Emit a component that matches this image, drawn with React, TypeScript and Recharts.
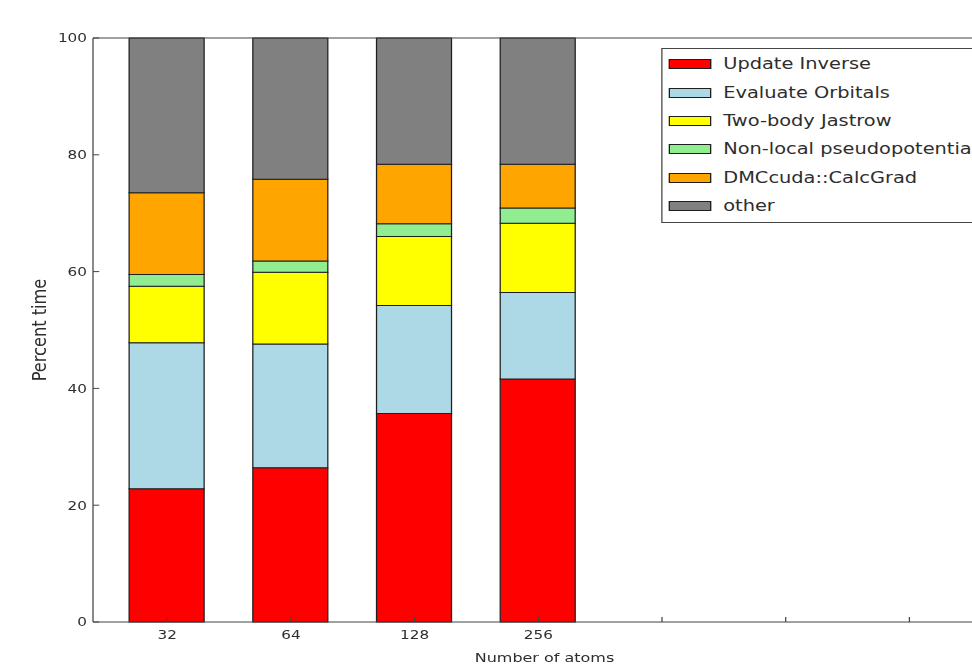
import { BarChart, Bar, XAxis, YAxis, Legend, Label } from 'recharts';

// categories on the x axis, plus three unlabeled slots the original axis keeps
const atoms = ['32', '64', '128', '256'];
const emptySlots = ['', '', ''];

// percent of time per kernel (bottom to top of each stack)
const updateInverse = [22.8, 26.4, 35.7, 41.6];
const evaluateOrbitals = [25.0, 21.2, 18.5, 14.8];
const twoBodyJastrow = [9.7, 12.3, 11.8, 11.9];
const nonLocalPP = [2.0, 1.9, 2.2, 2.6];
const calcGrad = [14.0, 14.0, 10.2, 7.5];
const other = [26.5, 24.2, 21.6, 21.6];

const yTicks = [0, 20, 40, 60, 80, 100];

const FONT = '"DejaVu Sans", sans-serif';
const TEXT = '#2e2e2e';
const EDGE = '#1e1e1e';
const SPINE = '#444';
// the source image is stretched sideways, so draw narrow and scale x
const STRETCH = 1.25;

const series = [
  { key: 'updateInverse', name: 'Update Inverse', color: '#ff0000', values: updateInverse },
  { key: 'evaluateOrbitals', name: 'Evaluate Orbitals', color: '#add8e6', values: evaluateOrbitals },
  { key: 'twoBodyJastrow', name: 'Two-body Jastrow', color: '#ffff00', values: twoBodyJastrow },
  { key: 'nonLocalPP', name: 'Non-local pseudopotential', color: '#90ee90', values: nonLocalPP },
  { key: 'calcGrad', name: 'DMCcuda::CalcGrad', color: '#ffa500', values: calcGrad },
  { key: 'other', name: 'other', color: '#808080', values: other },
];

const chartData = [...atoms, ...emptySlots].map((label, i) => {
  const row: Record<string, string | number | undefined> = { atoms: label };
  series.forEach(s => {
    row[s.key] = s.values[i];
  });
  return row;
});

const renderLegend = () => (
  <div
    style={{
      border: '1px solid #444',
      background: '#fff',
      padding: '1px 0 2px',
      width: 260,
      fontFamily: FONT,
      fontSize: 15.5,
      color: TEXT,
    }}
  >
    {series.map(s => (
      <div key={s.key} style={{ display: 'flex', alignItems: 'center', height: 28.4 }}>
        <span
          style={{
            width: 33.6,
            height: 10,
            background: s.color,
            border: `1px solid ${EDGE}`,
            boxSizing: 'border-box',
            marginLeft: 5.6,
            marginRight: 9.6,
            flex: 'none',
          }}
        />
        <span style={{ whiteSpace: 'nowrap' }}>{s.name}</span>
      </div>
    ))}
  </div>
);

export default function App() {
  const tickStyle = { fill: TEXT, fontSize: 12.2, fontFamily: FONT };
  return (
    <div
      style={{
        position: 'fixed',
        left: 0,
        top: 0,
        width: 972,
        height: 664,
        overflow: 'hidden',
        background: '#fff',
      }}
    >
      <div style={{ transform: `scale(${STRETCH}, 1)`, transformOrigin: '0 0', width: 810, height: 680 }}>
        <BarChart
          width={810}
          height={680}
          data={chartData}
          barSize={60}
          margin={{ top: 37, right: 13.2, bottom: 0, left: 0 }}
        >
          <XAxis
            dataKey="atoms"
            height={58}
            interval={0}
            padding={{ left: 9.9, right: 19.8 }}
            tickSize={-5}
            tickMargin={13.5}
            tick={tickStyle}
            axisLine={{ stroke: SPINE }}
            tickLine={{ stroke: SPINE }}
          >
            <Label
              value="Number of atoms"
              position="insideBottom"
              offset={18}
              style={{ fill: TEXT, fontSize: 12.8, fontFamily: FONT }}
            />
          </XAxis>
          <XAxis
            xAxisId="top"
            orientation="top"
            dataKey="atoms"
            height={1}
            interval={0}
            padding={{ left: 9.9, right: 19.8 }}
            tickSize={-5}
            tick={false}
            axisLine={{ stroke: SPINE }}
            tickLine={{ stroke: SPINE }}
          />
          <YAxis
            domain={[0, 100]}
            ticks={yTicks}
            interval={0}
            width={74.4}
            tickSize={-5}
            tickMargin={9.8}
            tick={tickStyle}
            axisLine={{ stroke: SPINE }}
            tickLine={{ stroke: SPINE }}
          >
            <Label
              value="Percent time"
              angle={-90}
              position="insideLeft"
              offset={31.2}
              style={{ fill: TEXT, fontSize: 16.2, fontFamily: FONT, textAnchor: 'middle' }}
            />
          </YAxis>
          <Legend
            layout="vertical"
            align="center"
            verticalAlign="middle"
            content={renderLegend}
            wrapperStyle={{ left: 528.8, top: 48, width: 260, height: 'auto' }}
          />
          {series.map(s => (
            <Bar
              key={s.key}
              dataKey={s.key}
              name={s.name}
              stackId="time"
              fill={s.color}
              stroke={EDGE}
              strokeWidth={1}
              isAnimationActive={false}
            />
          ))}
        </BarChart>
      </div>
    </div>
  );
}
